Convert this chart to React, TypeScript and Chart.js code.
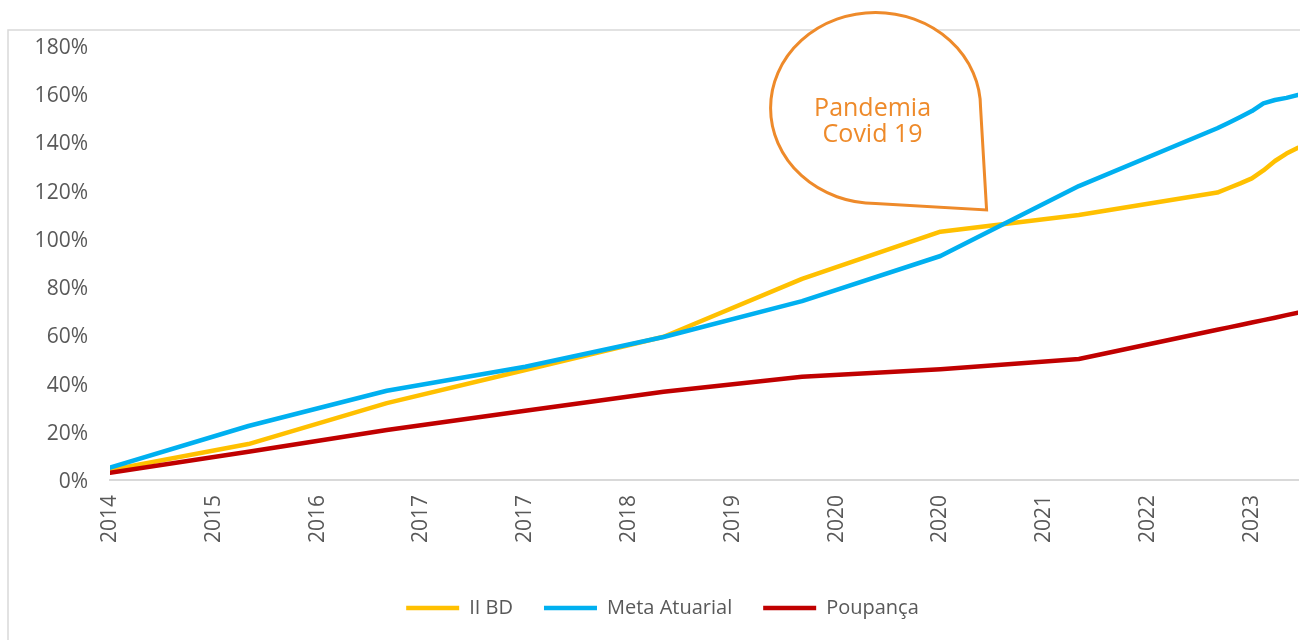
import React, { useEffect, useRef } from 'react';
import { Chart, registerables } from 'chart.js';

Chart.register(...registerables);

// ---- Data ----
const dates = [
  '2014-12', '2015-12', '2016-12', '2017-12', '2018-12', '2019-12', '2020-12', '2021-12',
  '2022-12', '2023-01', '2023-02', '2023-03', '2023-04', '2023-05', '2023-06', '2023-07',
];
const iiBD = [4.1, 14.9, 31.9, 45.6, 59.4, 83.4, 103.0, 109.9, 119.2, 121.1, 123.0, 125.1, 128.4, 132.3, 135.4, 137.8];
const metaAtuarial = [5.1, 22.4, 37.0, 47.0, 59.3, 74.2, 92.9, 121.9, 145.9, 148.2, 150.6, 153.0, 156.2, 157.6, 158.5, 159.7];
const poupanca = [3.0, 11.7, 20.7, 28.7, 36.6, 42.8, 45.9, 50.2, 62.3, 63.3, 64.3, 65.3, 66.3, 67.3, 68.4, 69.4];

const seriesNames = ['II BD', 'Meta Atuarial', 'Poupança'];
const seriesColors = ['#FFC000', '#00B0F0', '#C00000'];

const tickLabels = ['2014', '2015', '2016', '2017', '2017', '2018', '2019', '2020', '2020', '2021', '2022', '2023'];
const tickStepMonths = 9;

const yMin = 0;
const yMax = 180;
const yStep = 20;

const calloutLines = ['Pandemia', 'Covid 19'];
const calloutTip = { date: '2021-04', value: 112 };

// ---- helpers ----
const baseParts = dates[0].split('-').map(Number);
const monthIndex = (d: string) => {
  const [y, m] = d.split('-').map(Number);
  return (y - baseParts[0]) * 12 + (m - baseParts[1]);
};

const TEXT = '#595959';
const ORANGE = '#EE8A2A';
const FONT = "'Open Sans', 'Noto Sans', sans-serif";

const framePlugin = {
  id: 'frame',
  beforeDraw(chart: any) {
    const ctx = chart.ctx;
    ctx.save();
    ctx.fillStyle = '#ffffff';
    ctx.fillRect(0, 0, chart.width, chart.height);
    ctx.strokeStyle = '#D9D9D9';
    ctx.lineWidth = 1.5;
    ctx.strokeRect(8, 30, chart.width + 50, chart.height + 50);
    ctx.restore();
  },
};

const calloutPlugin = {
  id: 'callout',
  afterDraw(chart: any) {
    const ctx = chart.ctx;
    const xs = chart.scales.x;
    const ys = chart.scales.y;
    const tx = xs.getPixelForValue(monthIndex(calloutTip.date));
    const ty = ys.getPixelForValue(calloutTip.value);
    const cx = tx - 111;
    const cy = ty - 102;
    const rx = 105;
    const ry = 95.5;
    ctx.save();
    ctx.beginPath();
    ctx.ellipse(cx, cy, rx, ry, 0, Math.PI / 2, Math.PI * 2, false);
    ctx.lineTo(tx - 6, cy);
    ctx.lineTo(tx, ty);
    ctx.lineTo(cx, cy + ry);
    ctx.closePath();
    ctx.fillStyle = '#ffffff';
    ctx.fill();
    ctx.lineWidth = 3;
    ctx.strokeStyle = ORANGE;
    ctx.lineJoin = 'miter';
    ctx.stroke();
    ctx.fillStyle = ORANGE;
    ctx.font = `400 25px ${FONT}`;
    ctx.textAlign = 'center';
    ctx.textBaseline = 'alphabetic';
    ctx.fillText(calloutLines[0], tx - 114, ty - 94);
    ctx.fillText(calloutLines[1], tx - 114, ty - 68);
    ctx.restore();
  },
};

export default function App() {
  const ref = useRef<HTMLCanvasElement | null>(null);

  useEffect(() => {
    if (!ref.current) return;
    const xs = dates.map(monthIndex);
    const seriesValues = [iiBD, metaAtuarial, poupanca];
    const orders = [2, 1, 0];
    const chart = new Chart(ref.current, {
      type: 'line',
      data: {
        datasets: seriesValues.map((vals, i) => ({
          label: seriesNames[i],
          data: vals.map((v, j) => ({ x: xs[j], y: v })),
          borderColor: seriesColors[i],
          backgroundColor: seriesColors[i],
          borderWidth: 4.5,
          borderCapStyle: 'round',
          borderJoinStyle: 'round',
          pointRadius: 0,
          pointHoverRadius: 0,
          tension: 0,
          fill: false,
          order: orders[i],
        })),
      },
      options: {
        responsive: false,
        animation: false,
        devicePixelRatio: 1,
        layout: { padding: { left: 27, right: 2, top: 46, bottom: 12 } },
        scales: {
          x: {
            type: 'linear',
            min: xs[0],
            max: xs[xs.length - 1],
            afterBuildTicks: (scale: any) => {
              scale.ticks = tickLabels.map((_, i) => ({ value: xs[0] + i * tickStepMonths }));
            },
            afterFit: (scale: any) => {
              scale.height = 87;
            },
            grid: { display: false, drawTicks: false },
            border: { display: true, color: '#D9D9D9', width: 2 },
            ticks: {
              autoSkip: false,
              minRotation: 90,
              maxRotation: 90,
              padding: 15,
              color: TEXT,
              font: { family: FONT, size: 21 },
              callback: (_v: any, i: number) => tickLabels[i],
            },
          },
          y: {
            min: yMin,
            max: yMax,
            afterFit: (scale: any) => {
              scale.width = 83;
            },
            grid: { display: false, drawTicks: false },
            border: { display: false },
            ticks: {
              stepSize: yStep,
              padding: 22,
              labelOffset: 2,
              color: TEXT,
              font: { family: FONT, size: 21 },
              callback: (v: any) => `${v}%`,
            },
          },
        },
        plugins: {
          tooltip: { enabled: false },
          legend: {
            position: 'bottom',
            labels: {
              usePointStyle: true,
              pointStyle: 'line',
              pointStyleWidth: 53,
              padding: 31,
              color: TEXT,
              font: { family: FONT, size: 20 },
              sort: (a: any, b: any) => a.datasetIndex - b.datasetIndex,
            },
          },
        },
      },
      plugins: [framePlugin, calloutPlugin],
    } as any);
    return () => chart.destroy();
  }, []);

  return (
    <canvas
      ref={ref}
      width={1300}
      height={640}
      style={{ position: 'fixed', left: 0, top: 0, width: 1300, height: 640, display: 'block' }}
    />
  );
}
